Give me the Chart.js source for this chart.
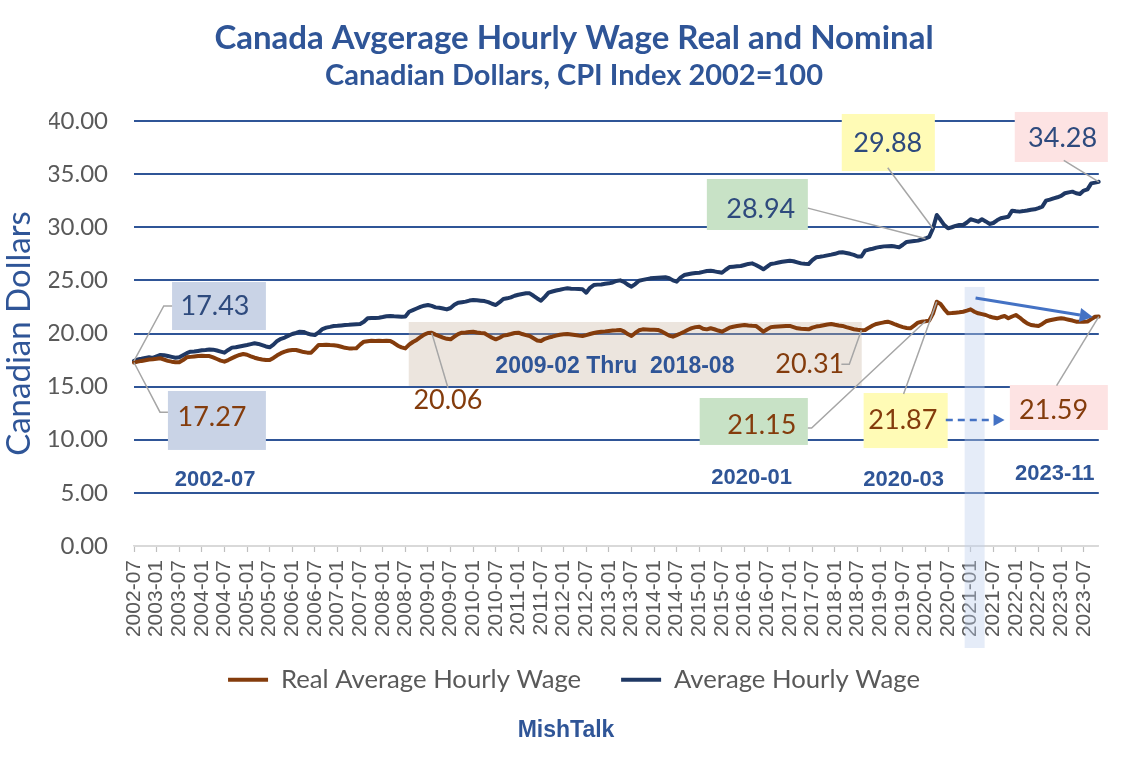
<!DOCTYPE html>
<html>
<head>
<meta charset="utf-8">
<script src="https://cdn.jsdelivr.net/npm/chart.js@4.4.1/dist/chart.umd.min.js"></script>
<style>
html,body{margin:0;padding:0;background:#ffffff;}
#wrap{width:1132px;height:772px;position:relative;}
</style>
</head>
<body>
<div id="wrap"><canvas id="c" width="1132" height="772"></canvas></div>
<script>
// ---------------- DATA ----------------
const START_YEAR = 2002, START_MONTH = 7, N_MONTHS = 257;
const months = [];
for (let k = 0; k < N_MONTHS; k++) {
  const m = START_MONTH - 1 + k;
  months.push(String(START_YEAR + Math.floor(m / 12)) + '-' + String(m % 12 + 1).padStart(2, '0'));
}

// Average Hourly Wage (nominal), monthly from 2002-07 to 2023-11
const nominalWage = [
  17.43,17.55,17.62,17.70,17.76,17.70,17.85,17.98,17.95,17.88,17.80,17.72,
  17.76,17.95,18.15,18.29,18.30,18.36,18.42,18.45,18.50,18.48,18.40,18.30,
  18.20,18.45,18.67,18.70,18.78,18.85,18.92,19.00,19.08,19.02,18.90,18.78,
  18.70,18.95,19.30,19.50,19.62,19.80,19.95,20.05,20.17,20.15,20.00,19.90,
  19.86,20.10,20.42,20.55,20.62,20.70,20.72,20.76,20.80,20.82,20.85,20.88,
  20.90,21.10,21.43,21.46,21.45,21.49,21.55,21.62,21.65,21.62,21.60,21.58,
  21.60,22.05,22.20,22.35,22.50,22.62,22.68,22.60,22.46,22.42,22.35,22.27,
  22.40,22.70,22.90,22.95,23.00,23.10,23.15,23.12,23.09,23.05,22.95,22.80,
  22.68,22.95,23.25,23.31,23.40,23.55,23.65,23.72,23.78,23.78,23.55,23.30,
  23.09,23.45,23.84,23.95,24.05,24.12,24.20,24.25,24.22,24.20,24.18,24.16,
  23.84,24.30,24.56,24.60,24.62,24.68,24.72,24.80,24.95,25.00,24.85,24.60,
  24.41,24.65,24.97,25.05,25.12,25.19,25.22,25.25,25.28,25.29,25.20,25.00,
  24.88,25.25,25.50,25.58,25.65,25.70,25.72,25.80,25.88,25.91,25.85,25.78,
  25.72,26.00,26.25,26.29,26.32,26.35,26.45,26.55,26.60,26.45,26.25,26.04,
  26.30,26.55,26.60,26.68,26.75,26.80,26.85,26.80,26.70,26.60,26.56,26.54,
  26.90,27.17,27.22,27.28,27.35,27.42,27.50,27.62,27.64,27.58,27.50,27.40,
  27.25,27.25,27.80,27.90,27.98,28.08,28.15,28.20,28.22,28.24,28.18,28.11,
  28.35,28.62,28.66,28.70,28.74,28.85,28.94,29.10,29.88,31.15,30.70,30.20,
  29.90,30.00,30.12,30.21,30.21,30.45,30.75,30.65,30.52,30.75,30.55,30.31,
  30.40,30.65,30.84,30.92,30.99,31.56,31.50,31.47,31.52,31.58,31.65,31.69,
  31.80,31.94,32.50,32.60,32.72,32.82,32.95,33.20,33.28,33.35,33.20,33.13,
  33.45,33.57,34.13,34.20,34.28
];

// Real Average Hourly Wage (CPI 2002=100), monthly from 2002-07 to 2023-11
const realWage = [
  17.27,17.35,17.42,17.48,17.55,17.58,17.62,17.67,17.55,17.42,17.35,17.30,
  17.29,17.50,17.76,17.80,17.84,17.88,17.90,17.88,17.88,17.75,17.60,17.45,
  17.35,17.50,17.68,17.85,17.98,18.07,18.00,17.85,17.72,17.62,17.55,17.50,
  17.50,17.70,17.95,18.15,18.30,18.40,18.45,18.45,18.35,18.25,18.20,18.20,
  18.55,18.92,18.92,18.95,18.92,18.90,18.85,18.75,18.65,18.60,18.60,18.62,
  18.95,19.23,19.28,19.32,19.30,19.32,19.30,19.32,19.30,19.10,18.85,18.70,
  18.60,18.95,19.20,19.39,19.65,19.90,20.05,20.06,19.90,19.76,19.62,19.50,
  19.45,19.70,19.95,20.08,20.10,20.15,20.17,20.10,20.05,20.02,19.80,19.60,
  19.45,19.60,19.80,19.86,19.95,20.05,20.08,19.95,19.85,19.76,19.55,19.35,
  19.29,19.50,19.62,19.70,19.80,19.88,19.92,19.95,19.90,19.85,19.80,19.76,
  19.85,19.95,20.05,20.12,20.17,20.20,20.24,20.28,20.30,20.33,20.20,19.95,
  19.76,20.05,20.30,20.39,20.38,20.36,20.35,20.33,20.20,20.00,19.80,19.70,
  19.85,20.00,20.17,20.35,20.50,20.60,20.64,20.45,20.39,20.49,20.40,20.28,
  20.17,20.35,20.55,20.64,20.70,20.76,20.80,20.75,20.72,20.71,20.45,20.17,
  20.40,20.60,20.64,20.66,20.68,20.70,20.71,20.60,20.49,20.45,20.42,20.39,
  20.55,20.65,20.71,20.78,20.85,20.90,20.82,20.75,20.71,20.60,20.50,20.40,
  20.35,20.31,20.33,20.55,20.75,20.90,20.98,21.05,21.11,21.00,20.85,20.71,
  20.60,20.52,20.49,20.75,21.02,21.10,21.15,21.21,21.87,22.99,22.78,22.30,
  21.90,21.92,21.96,22.00,22.05,22.15,22.27,22.05,21.90,21.82,21.74,21.60,
  21.50,21.43,21.55,21.65,21.43,21.60,21.74,21.50,21.20,20.95,20.80,20.75,
  20.71,20.90,21.15,21.25,21.32,21.38,21.43,21.38,21.30,21.22,21.11,21.10,
  21.11,21.12,21.35,21.58,21.59
];

const yTicks = { min: 0, max: 40, step: 5 };
const seriesNames = ['Real Average Hourly Wage', 'Average Hourly Wage'];

// ---------------- STYLE ----------------
const BROWN = '#843C0C', NAVY = '#1F3864', BLUE_T = '#2F5597', NUM_NAVY = '#2E4A7D';
const GRAY_TXT = '#595959', LEADER = '#A6A6A6', ARROW = '#4472C4';
const NUM_FONT = '27px Lato, "Open Sans", sans-serif';
const DATE_FONT = 'bold 22px "Liberation Sans", Arial, sans-serif';

// annotation layout in data units: x = month index, y = dollars
const callouts = [
  { text: '17.43', color: NUM_NAVY, fill: '#C9D3E6', box: [10.1, 35.0, 24.85, 20.33], at: [21.5, 22.6], leader: [[10.1, 22.6], [7.9, 22.6]], series: 'nominal', idx: 0 },
  { text: '17.27', color: BROWN, fill: '#C9D3E6', box: [9.0, 35.0, 14.59, 9.04], at: [20.7, 12.1], leader: [[9.0, 12.6], [6.9, 12.6]], series: 'real', idx: 0 },
  { text: '20.06', color: BROWN, fill: null, at: [83.3, 13.74], leader: [[83.3, 14.9]], series: 'real', idx: 79 },
  { text: '20.31', color: BROWN, fill: null, at: [179.3, 17.13], leader: [[187.7, 17.1], [189.8, 17.1]], series: 'real', idx: 193 },
  { text: '28.94', color: NUM_NAVY, fill: '#C8E2C6', box: [152.0, 178.8, 34.54, 29.74], at: [166.3, 31.7], leader: [[178.8, 31.8]], series: 'nominal', idx: 210 },
  { text: '29.88', color: NUM_NAVY, fill: '#FFFBB6', box: [187.8, 212.5, 40.66, 35.29], at: [200.0, 37.9], leader: [[200.0, 35.6]], series: 'nominal', idx: 212 },
  { text: '34.28', color: NUM_NAVY, fill: '#FDE3E3', box: [233.7, 258.4, 40.85, 36.14], at: [246.4, 38.4], leader: [[246.7, 36.3]], series: 'nominal', idx: 256 },
  { text: '21.15', color: BROWN, fill: '#C8E2C6', box: [150.1, 178.8, 13.93, 9.51], at: [166.6, 11.39], leader: [[178.8, 11.1], [179.8, 11.1]], series: 'real', idx: 210 },
  { text: '21.87', color: BROWN, fill: '#FFFBB6', box: [193.6, 215.9, 14.4, 9.22], at: [204.0, 11.86], leader: [[204.2, 14.3]], series: 'real', idx: 213 },
  { text: '21.59', color: BROWN, fill: '#FDE3E3', box: [232.4, 258.4, 15.15, 10.92], at: [244.0, 12.8], leader: [[244.8, 15.1]], series: 'real', idx: 256 }
];
const dateNotes = [
  { text: '2002-07', at: [21.5, 6.2] },
  { text: '2009-02 Thru  2018-08', at: [127.6, 16.9], font: 'bold 23px "Liberation Sans", Arial, sans-serif' },
  { text: '2020-01', at: [163.9, 6.4] },
  { text: '2020-03', at: [204.2, 6.2] },
  { text: '2023-11', at: [244.3, 6.78] }
];
const shadedRange = { box: [72.9, 193.1, 21.08, 15.06], fill: 'rgba(200,180,160,0.35)' };
const band = { box: [220.4, 225.7, 24.38, -9.6], fill: 'rgba(189,208,238,0.40)' };
const trendArrow = { from: [223.3, 23.34], to: [254.4, 21.55] };
const dashArrow = { from: [215.4, 11.86], to: [231.0, 11.86] };

// ---------------- PLUGIN ----------------
function arrow(ctx, x1, y1, x2, y2, color, w, dash, head) {
  ctx.save();
  ctx.strokeStyle = color; ctx.fillStyle = color; ctx.lineWidth = w;
  ctx.setLineDash(dash || []);
  const a = Math.atan2(y2 - y1, x2 - x1);
  const hx = x2 - head * Math.cos(a), hy = y2 - head * Math.sin(a);
  ctx.beginPath(); ctx.moveTo(x1, y1); ctx.lineTo(hx, hy); ctx.stroke();
  ctx.setLineDash([]);
  ctx.beginPath();
  ctx.moveTo(x2, y2);
  ctx.lineTo(hx + head * 0.55 * Math.sin(a), hy - head * 0.55 * Math.cos(a));
  ctx.lineTo(hx - head * 0.55 * Math.sin(a), hy + head * 0.55 * Math.cos(a));
  ctx.closePath(); ctx.fill();
  ctx.restore();
}

const LEGEND_SHIFT = -19;
const annotations = {
  id: 'annotations',
  afterLayout(chart) {
    const lg = chart.legend;
    if (lg) { lg.top += LEGEND_SHIFT; lg.bottom += LEGEND_SHIFT; }
  },
  beforeDatasetsDraw(chart) {
    const ctx = chart.ctx, xs = chart.scales.x, ys = chart.scales.y;
    const X = v => xs.getPixelForValue(v), Y = v => ys.getPixelForValue(v);
    ctx.save();
    for (const r of [shadedRange, band]) {
      ctx.fillStyle = r.fill;
      ctx.fillRect(X(r.box[0]), Y(r.box[2]), X(r.box[1]) - X(r.box[0]), Y(r.box[3]) - Y(r.box[2]));
    }
    ctx.restore();
  },
  afterDatasetsDraw(chart) {
    const ctx = chart.ctx, xs = chart.scales.x, ys = chart.scales.y;
    const X = v => xs.getPixelForValue(v), Y = v => ys.getPixelForValue(v);
    ctx.save();
    for (const c of callouts) {
      if (c.fill) {
        ctx.fillStyle = c.fill;
        ctx.fillRect(X(c.box[0]), Y(c.box[2]), X(c.box[1]) - X(c.box[0]), Y(c.box[3]) - Y(c.box[2]));
      }
    }
    ctx.strokeStyle = LEADER; ctx.lineWidth = 1.5;
    for (const c of callouts) {
      const vals = c.series === 'real' ? realWage : nominalWage;
      ctx.beginPath();
      c.leader.forEach((p, k) => { if (k === 0) ctx.moveTo(X(p[0]), Y(p[1])); else ctx.lineTo(X(p[0]), Y(p[1])); });
      ctx.lineTo(X(c.idx), Y(vals[c.idx]));
      ctx.stroke();
    }
    ctx.textAlign = 'center'; ctx.textBaseline = 'middle';
    ctx.font = NUM_FONT;
    for (const c of callouts) {
      ctx.fillStyle = c.color;
      ctx.fillText(c.text, X(c.at[0]), Y(c.at[1]));
    }
    ctx.fillStyle = BLUE_T;
    for (const d of dateNotes) { ctx.font = d.font || DATE_FONT; ctx.fillText(d.text, X(d.at[0]), Y(d.at[1])); }
    ctx.restore();
    arrow(ctx, X(trendArrow.from[0]), Y(trendArrow.from[1]), X(trendArrow.to[0]), Y(trendArrow.to[1]), ARROW, 3, null, 13);
    arrow(ctx, X(dashArrow.from[0]), Y(dashArrow.from[1]), X(dashArrow.to[0]), Y(dashArrow.to[1]), ARROW, 2.5, [7, 5], 11);
  },
  afterDraw(chart) {
    const ctx = chart.ctx;
    ctx.save();
    ctx.font = 'bold 23px "Liberation Sans", Arial, sans-serif';
    ctx.fillStyle = BLUE_T; ctx.textAlign = 'center'; ctx.textBaseline = 'middle';
    ctx.fillText('MishTalk', 566, 731);
    ctx.restore();
  }
};

// ---------------- CHART ----------------
const PAD_LEFT = 49;
Chart.defaults.font.family = 'Lato, "Open Sans", sans-serif';
new Chart(document.getElementById('c'), {
  type: 'line',
  data: {
    labels: months,
    datasets: [
      { label: seriesNames[0], data: realWage, borderColor: BROWN, backgroundColor: BROWN, borderWidth: 4, pointRadius: 0, tension: 0, borderCapStyle: 'round', borderJoinStyle: 'round' },
      { label: seriesNames[1], data: nominalWage, borderColor: NAVY, backgroundColor: NAVY, borderWidth: 4, pointRadius: 0, tension: 0, borderCapStyle: 'round', borderJoinStyle: 'round' }
    ]
  },
  options: {
    responsive: false,
    animation: false,
    devicePixelRatio: 1,
    layout: { padding: { left: PAD_LEFT, right: 33, top: 0, bottom: 50.3 } },
    plugins: {
      title: { display: true, text: 'Canada Avgerage Hourly Wage Real and Nominal', color: BLUE_T,
        font: { size: 33, weight: 'bold', family: 'Lato, sans-serif' }, padding: { top: 18.2, bottom: 0 } },
      subtitle: { display: true, text: 'Canadian Dollars, CPI Index 2002=100', color: BLUE_T,
        font: { size: 29, weight: 'bold', family: 'Lato, sans-serif' }, padding: { top: 0.8, bottom: 27.6 } },
      legend: { display: true, position: 'bottom',
        labels: { usePointStyle: true, pointStyle: 'line', pointStyleWidth: 40, padding: 40, color: GRAY_TXT,
          font: { size: 25.7, family: 'Lato, sans-serif' } } },
      tooltip: { enabled: false }
    },
    scales: {
      x: {
        type: 'category',
        afterFit(s) { s.height = 100; },
        grid: { drawOnChartArea: false, drawTicks: true, tickLength: 6,
          tickColor: c => (c.index % 6 === 0 ? '#BFBFBF' : 'rgba(0,0,0,0)'), tickWidth: 1.2 },
        border: { display: true, color: '#D9D9D9', width: 1.5 },
        ticks: { autoSkip: false, minRotation: 90, maxRotation: 90, padding: 8, color: GRAY_TXT,
          font: { size: 21, family: '"Liberation Sans", Arial, sans-serif' },
          callback: function (v) { const l = this.getLabelForValue(v); return /-(01|07)$/.test(l) ? l : ''; } }
      },
      y: {
        min: yTicks.min, max: yTicks.max,
        afterFit(s) { s.width = 134 - PAD_LEFT; },
        grid: { drawTicks: false, lineWidth: 2, color: c => (c.tick && c.tick.value === 0 ? '#D9D9D9' : '#2F5597') },
        border: { display: false },
        ticks: { stepSize: yTicks.step, padding: 26, color: GRAY_TXT, font: { size: 24, family: 'Lato, sans-serif' },
          callback: v => Number(v).toFixed(2) },
        title: { display: true, text: 'Canadian Dollars', color: BLUE_T, font: { size: 33, family: 'Lato, sans-serif' },
          padding: { top: -PAD_LEFT, bottom: 0 } }
      }
    }
  },
  plugins: [annotations]
});
</script>
</body>
</html>
